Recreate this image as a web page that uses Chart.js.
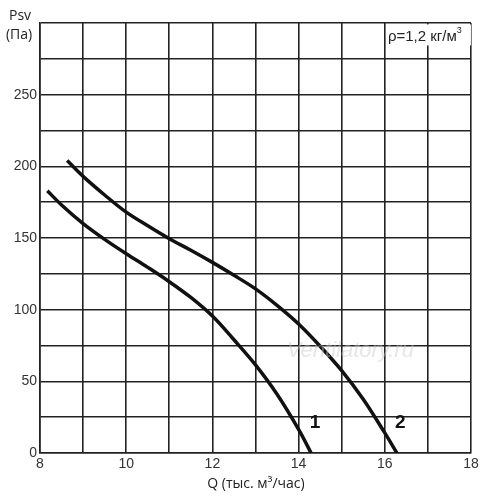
<!DOCTYPE html>
<html>
<head>
<meta charset="utf-8">
<style>
    html, body { margin: 0; padding: 0; background: #fff; }
    #wrap { width: 500px; height: 500px; }
</style>
</head>
<body>
<div id="wrap"><canvas id="fan"></canvas></div>
<script src="https://cdn.jsdelivr.net/npm/chart.js"></script>
<script>
    //curve 1
    const q1 = [8.17, 8.5, 9, 9.5, 10, 10.5, 11, 11.5, 12, 12.5, 13, 13.5, 14, 14.29];
    const p1 = [183, 173, 160, 149, 139, 129.5, 119.5, 108.5, 95.5, 79, 61.5, 41, 16.5, 0];
    //curve 2
    const q2 = [8.63, 9, 9.5, 10, 10.5, 11, 11.5, 12, 12.5, 13, 13.5, 14, 14.5, 15, 15.5, 16, 16.28];
    const p2 = [204, 193, 180, 168, 158.5, 149.5, 141.5, 133, 124, 114.5, 103, 90, 74.5, 57.5, 37.5, 14, 0];
    const curveNames = ['1', '2'];
    const xLabels = [8, 10, 12, 14, 16, 18];
    const yLabels = [0, 50, 100, 150, 200, 250];

    const toPoints = (xs, ys) => xs.map((x, i) => ({x: x, y: ys[i]}));

    const lineStyle = {
        borderColor: '#111',
        borderWidth: 3.5,
        pointRadius: 0,
        fill: false,
        tension: 0.35
    };

    const textPlugin = {
        id: 'texts',
        afterDraw(chart) {
            const ctx = chart.ctx;
            const xs = chart.scales.x, ys = chart.scales.y;
            ctx.save();
            //watermark
            ctx.fillStyle = 'rgba(200,200,200,0.45)';
            ctx.font = 'italic 22px "Liberation Sans"';
            ctx.textAlign = 'center';
            ctx.textBaseline = 'middle';
            ctx.fillText('Ventilatory.ru', xs.getPixelForValue(15.2), ys.getPixelForValue(71));
            //curve numbers
            ctx.fillStyle = '#111';
            ctx.font = 'bold 19px "Liberation Sans"';
            ctx.fillText(curveNames[0], xs.getPixelForValue(14.38), ys.getPixelForValue(21));
            ctx.fillText(curveNames[1], xs.getPixelForValue(16.36), ys.getPixelForValue(21));
            //density box
            const bx = xs.getPixelForValue(16.05), by = ys.getPixelForValue(299);
            ctx.fillStyle = '#fff';
            ctx.fillRect(bx, by, 84, 21);
            ctx.fillStyle = '#222';
            ctx.font = '15px "Liberation Sans"';
            ctx.textAlign = 'left';
            ctx.textBaseline = 'alphabetic';
            ctx.fillText('ρ=1,2 кг/м', bx + 1, by + 17);
            const w = ctx.measureText('ρ=1,2 кг/м').width;
            ctx.font = '9px "Liberation Sans"';
            ctx.fillText('3', bx + 1 + w, by + 9);
            //y axis title
            ctx.fillStyle = '#222';
            ctx.font = '14px "Open Sans"';
            ctx.textAlign = 'center';
            ctx.fillText('Psv', 20, 20);
            ctx.fillText('(Па)', 19, 39);
            //x axis title
            ctx.font = '14px "Open Sans"';
            ctx.fillText('Q (тыс. м³/час)', 256, 488);
            ctx.restore();
        }
    };

    new Chart(document.getElementById('fan'), {
        type: 'line',
        data: {
            datasets: [
                Object.assign({label: curveNames[0], data: toPoints(q1, p1)}, lineStyle),
                Object.assign({label: curveNames[1], data: toPoints(q2, p2)}, lineStyle)
            ]
        },
        options: {
            responsive: true,
            maintainAspectRatio: false,
            animation: false,
            layout: {padding: {top: 23, right: 29, left: 0, bottom: 0}},
            plugins: {legend: {display: false}, tooltip: {enabled: false}},
            scales: {
                x: {
                    type: 'linear',
                    min: 8,
                    max: 18,
                    afterFit(scale) { scale.height = 47; },
                    border: {color: '#222', width: 1.6},
                    grid: {color: '#222', lineWidth: 1.6, drawTicks: false},
                    ticks: {
                        stepSize: 1,
                        padding: 3,
                        color: '#333',
                        font: {family: 'Liberation Sans', size: 14},
                        callback: (v) => xLabels.includes(v) ? String(v) : ''
                    }
                },
                y: {
                    min: 0,
                    max: 300,
                    afterFit(scale) { scale.width = 40; },
                    border: {color: '#222', width: 1.6},
                    grid: {color: '#222', lineWidth: 1.6, drawTicks: false},
                    ticks: {
                        stepSize: 25,
                        padding: 3,
                        color: '#333',
                        font: {family: 'Liberation Sans', size: 14},
                        callback: (v) => yLabels.includes(v) ? String(v) : ''
                    }
                }
            }
        },
        plugins: [textPlugin]
    });
</script>
</body>
</html>
